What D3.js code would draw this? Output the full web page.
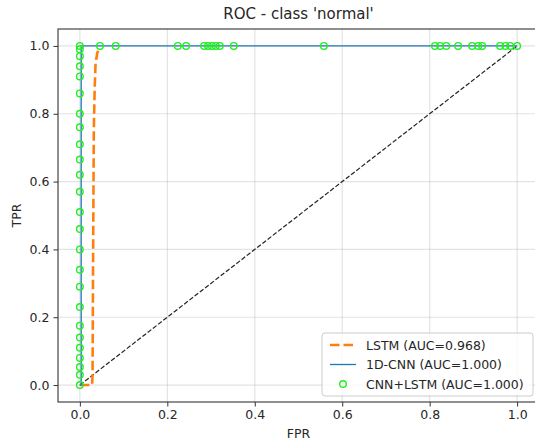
<!DOCTYPE html>
<html>
<head>
<meta charset="utf-8">
<script src="https://cdn.jsdelivr.net/npm/d3@7"></script>
<style>
  body { margin: 0; background: #fff; }
  text { font-family: "DejaVu Sans", sans-serif; fill: #262626; }
</style>
</head>
<body>
<div id="vis1"></div>
<script>
const frame_width = 535;
const frame_height = 445;
const margins = {left: 58, right: -4, top: 29, bottom: 43};

// ROC points
const lstm_fpr = [0, 0.028, 0.029, 0.030, 0.031, 0.032, 0.034, 0.036, 0.040, 0.045];
const lstm_tpr = [0, 0, 0.03, 0.30, 0.55, 0.76, 0.88, 0.95, 0.98, 0.995];

const cnn_fpr = [0, 0.003, 0.003, 1];
const cnn_tpr = [0, 0, 1, 1];

const hybrid_fpr = [0, 0, 0, 0, 0, 0, 0, 0, 0, 0, 0, 0, 0, 0, 0, 0, 0, 0, 0, 0, 0, 0, 0, 0, 0,
  0.046, 0.082, 0.224, 0.243, 0.284, 0.293, 0.302, 0.311, 0.320, 0.352, 0.558,
  0.812, 0.824, 0.838, 0.865, 0.897, 0.911, 0.920, 0.961, 0.973, 0.984, 1.0];
const hybrid_tpr = [0, 0.03, 0.053, 0.08, 0.11, 0.14, 0.175, 0.23, 0.29, 0.34, 0.40, 0.46, 0.51,
  0.57, 0.62, 0.665, 0.71, 0.76, 0.80, 0.86, 0.91, 0.94, 0.97, 0.99, 1.0,
  1, 1, 1, 1, 1, 1, 1, 1, 1, 1, 1, 1, 1, 1, 1, 1, 1, 1, 1, 1, 1, 1];

const ticks = [0, 0.2, 0.4, 0.6, 0.8, 1.0];
const legend_labels = ["LSTM (AUC=0.968)", "1D-CNN (AUC=1.000)", "CNN+LSTM (AUC=1.000)"];

const svg = d3.select("#vis1")
  .append("svg")
    .attr("width", frame_width)
    .attr("height", frame_height);

const pw = frame_width - margins.left - margins.right;
const ph = frame_height - margins.top - margins.bottom;

const x = d3.scaleLinear().domain([-0.05, 1.05]).range([0, pw]);
const y = d3.scaleLinear().domain([-0.05, 1.05]).range([ph, 0]);

const g = svg.append("g")
  .attr("transform", "translate(" + margins.left + "," + margins.top + ")");

// grid
g.append("g").selectAll("line").data(ticks).enter().append("line")
  .attr("x1", d => x(d)).attr("x2", d => x(d)).attr("y1", 0).attr("y2", ph)
  .attr("stroke", "#b0b0b0").attr("stroke-opacity", 0.35).attr("stroke-width", 1.2);
g.append("g").selectAll("line").data(ticks).enter().append("line")
  .attr("y1", d => y(d)).attr("y2", d => y(d)).attr("x1", 0).attr("x2", pw)
  .attr("stroke", "#b0b0b0").attr("stroke-opacity", 0.35).attr("stroke-width", 1.2);

// diagonal
g.append("line")
  .attr("x1", x(0)).attr("y1", y(0)).attr("x2", x(1)).attr("y2", y(1))
  .attr("stroke", "#222").attr("stroke-width", 1.2).attr("stroke-dasharray", "4.6,2");

const line = d3.line().x(d => x(d[0])).y(d => y(d[1]));

g.append("path")
  .datum(d3.zip(lstm_fpr, lstm_tpr))
  .attr("d", line)
  .attr("fill", "none").attr("stroke", "#ff7f0e").attr("stroke-width", 2.6)
  .attr("stroke-dasharray", "9.5,4");

g.append("path")
  .datum(d3.zip(cnn_fpr, cnn_tpr))
  .attr("d", line)
  .attr("fill", "none").attr("stroke", "#1f77b4").attr("stroke-width", 1.3);

g.append("g").selectAll("circle")
  .data(d3.zip(hybrid_fpr, hybrid_tpr))
  .enter().append("circle")
    .attr("cx", d => x(d[0])).attr("cy", d => y(d[1])).attr("r", 3.3)
    .attr("fill", "none").attr("stroke", "#22ee22").attr("stroke-width", 1.4);

// axes
const xAxis = g.append("g")
  .attr("transform", "translate(0," + ph + ")")
  .call(d3.axisBottom(x).tickValues(ticks).tickFormat(d3.format(".1f")).tickSize(4.5).tickPadding(4));
const yAxis = g.append("g")
  .call(d3.axisLeft(y).tickValues(ticks).tickFormat(d3.format(".1f")).tickSize(4.5).tickPadding(4));
[xAxis, yAxis].forEach(a => {
  a.select(".domain").remove();
  a.selectAll("line").attr("stroke", "#333");
  a.selectAll("text").attr("font-size", "12.5px").attr("font-family", "DejaVu Sans").attr("fill", "#262626");
});

g.append("rect")
  .attr("x", 0).attr("y", 0).attr("width", pw).attr("height", ph)
  .attr("fill", "none").attr("stroke", "#333").attr("stroke-width", 1.1);

// titles
svg.append("text")
  .attr("x", margins.left + pw / 2).attr("y", 19)
  .attr("text-anchor", "middle").attr("font-size", "15px")
  .text("ROC - class 'normal'");
svg.append("text")
  .attr("x", margins.left + pw / 2).attr("y", 438)
  .attr("text-anchor", "middle").attr("font-size", "12.5px")
  .text("FPR");
svg.append("text")
  .attr("transform", "translate(21," + (margins.top + ph / 2) + ") rotate(-90)")
  .attr("text-anchor", "middle").attr("font-size", "12.5px")
  .text("TPR");

// legend
const lg = svg.append("g").attr("transform", "translate(322,333)");
lg.append("rect")
  .attr("width", 211).attr("height", 63).attr("rx", 3)
  .attr("fill", "#fff").attr("fill-opacity", 0.8)
  .attr("stroke", "#ccc").attr("stroke-width", 1);
legend_labels.forEach((lab, i) => {
  const cy = 12 + i * 19.5;
  if (i === 0) {
    lg.append("line").attr("x1", 8).attr("x2", 34).attr("y1", cy).attr("y2", cy)
      .attr("stroke", "#ff7f0e").attr("stroke-width", 2.6).attr("stroke-dasharray", "9.5,4");
  } else if (i === 1) {
    lg.append("line").attr("x1", 8).attr("x2", 34).attr("y1", cy).attr("y2", cy)
      .attr("stroke", "#1f77b4").attr("stroke-width", 1.3);
  } else {
    lg.append("circle").attr("cx", 21).attr("cy", cy).attr("r", 3.3)
      .attr("fill", "none").attr("stroke", "#22ee22").attr("stroke-width", 1.4);
  }
  lg.append("text").attr("x", 44).attr("y", cy + 4.5)
    .attr("font-size", "12.5px").text(lab);
});
</script>
</body>
</html>
